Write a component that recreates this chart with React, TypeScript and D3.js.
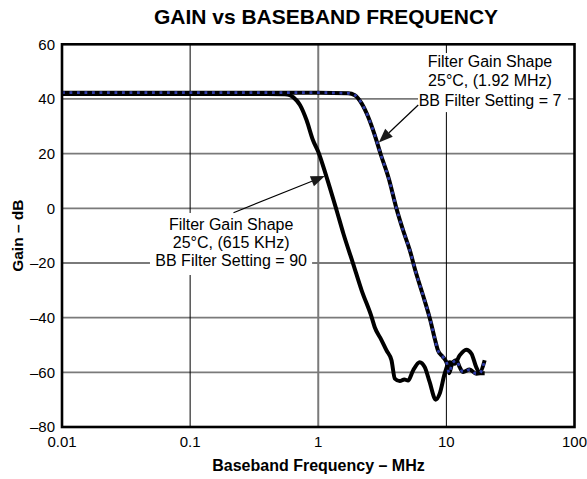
import React, { useEffect, useRef } from "react";
import * as d3 from "d3";

// Gain vs baseband frequency
const freqA = [0.01, 0.1, 0.4, 0.55, 0.6, 0.64, 0.72, 0.81, 0.91, 1.0, 1.16, 1.39, 1.57, 1.87, 2.18, 2.61, 2.76, 3.1, 3.41, 3.73, 3.96, 4.33, 4.7, 5.02, 5.5, 6.19, 6.78, 7.41, 8.26, 8.87, 9.7, 10.6, 11.6, 12.7, 14.3, 15.7, 17.1, 18.2, 19.9];
const gainA = [41.8, 41.8, 41.8, 41.7, 41.4, 40.6, 37.8, 32.3, 24.9, 20.7, 11.5, -0.7, -9.2, -20.2, -30, -39.8, -43.5, -48, -52, -55.6, -62.3, -63.2, -62.6, -63, -59.3, -56.3, -58.1, -63.6, -70, -67.8, -60.5, -56.3, -56.9, -53.8, -51.7, -53.2, -58.1, -60.3, -60.3];

const freqB = [0.01, 0.1, 1.0, 1.71, 1.93, 2.18, 2.45, 2.76, 3.08, 3.55, 4.08, 4.59, 5.18, 5.77, 6.57, 7.5, 8.11, 8.6, 9.41, 10.1, 10.5, 11.1, 12.0, 12.7, 13.5, 15.2, 17.1, 18.2, 19.9];
const gainB = [42.3, 42.3, 42.3, 42.1, 41.4, 38.4, 33.5, 26.8, 19.6, 10.9, -0.1, -8, -15.3, -23.3, -31.8, -41, -47.6, -52, -54.4, -56.8, -60.3, -56.8, -55.6, -58.1, -59.9, -59.0, -60.5, -60.3, -55.6];

const xTicks = [0.01, 0.1, 1, 10, 100];
const xTickLabels = ["0.01", "0.1", "1", "10", "100"];
const yTicks = [60, 40, 20, 0, -20, -40, -60, -80];

const labelA = ["Filter Gain Shape", "25°C, (615 KHz)", "BB Filter Setting = 90"];
const labelB = ["Filter Gain Shape", "25°C, (1.92 MHz)", "BB Filter Setting = 7"];

const FONT = "'Liberation Sans', Arial, Helvetica, sans-serif";

const App = () => {
  const svgRef = useRef<SVGSVGElement>(null);

  useEffect(() => {
    const svg = d3.select(svgRef.current);
    svg.selectAll("*").remove();

    const width = 587;
    const height = 479;
    const plot = { left: 62, right: 574.5, top: 44.3, bottom: 427 };

    const x = d3.scaleLog().domain([0.01, 100]).range([plot.left, plot.right]);
    const y = d3.scaleLinear().domain([-80, 60]).range([plot.bottom, plot.top]);

    svg.attr("font-family", FONT);

    // title
    svg
      .append("text")
      .attr("x", 326)
      .attr("y", 24)
      .attr("text-anchor", "middle")
      .attr("font-size", 21)
      .attr("font-weight", "bold")
      .text("GAIN vs BASEBAND FREQUENCY");

    // grid
    const grid = svg.append("g");
    grid
      .selectAll("line.h")
      .data(yTicks.filter((d) => d > -80 && d < 60))
      .join("line")
      .attr("x1", plot.left)
      .attr("x2", plot.right)
      .attr("y1", (d) => y(d))
      .attr("y2", (d) => y(d))
      .attr("stroke", "#7a7a7a")
      .attr("stroke-width", 1.8);
    grid
      .selectAll("line.v")
      .data(xTicks.filter((d) => d > 0.01 && d < 100))
      .join("line")
      .attr("x1", (d) => x(d))
      .attr("x2", (d) => x(d))
      .attr("y1", plot.top)
      .attr("y2", plot.bottom)
      .attr("stroke", (d) => (d === 1 ? "#7a7a7a" : "#000"))
      .attr("stroke-width", (d) => (d === 1 ? 2 : 1));

    // annotation boxes (white, cut the grid)
    const boxes = [
      { f0: 0.0486, f1: 0.895, g0: -24.4, g1: -1.7 },
      { f0: 6.01, f1: 89, g0: 35.2, g1: 56.8 },
    ];
    svg
      .append("g")
      .selectAll("rect")
      .data(boxes)
      .join("rect")
      .attr("x", (d) => x(d.f0))
      .attr("y", (d) => y(d.g1))
      .attr("width", (d) => x(d.f1) - x(d.f0))
      .attr("height", (d) => y(d.g0) - y(d.g1))
      .attr("fill", "#fff");

    // annotation texts
    const notes = [
      { f: 0.209, lines: labelA, base: [229.5, 247.6, 265.7] },
      { f: 21.9, lines: labelB, base: [66.6, 86.1, 105.6] },
    ];
    notes.forEach((n) => {
      const t = svg
        .append("text")
        .attr("text-anchor", "middle")
        .attr("font-size", 16);
      n.lines.forEach((s, i) => {
        t.append("tspan").attr("x", x(n.f)).attr("y", n.base[i]).text(s);
      });
    });

    // arrows
    const arrows = [
      { f0: 0.218, g0: -1.6, f1: 1.127, g1: 11.8 },
      { f0: 6.03, g0: 37.8, f1: 2.97, g1: 24.1 },
    ];
    arrows.forEach((a) => {
      const x0 = x(a.f0), y0 = y(a.g0), x1 = x(a.f1), y1 = y(a.g1);
      const len = Math.hypot(x1 - x0, y1 - y0);
      const ux = (x1 - x0) / len, uy = (y1 - y0) / len;
      const hl = 14, hw = 5.5;
      const bx = x1 - ux * hl, by = y1 - uy * hl;
      svg
        .append("line")
        .attr("x1", x0)
        .attr("y1", y0)
        .attr("x2", bx)
        .attr("y2", by)
        .attr("stroke", "#000")
        .attr("stroke-width", 1.2);
      svg
        .append("polygon")
        .attr(
          "points",
          [
            [x1, y1],
            [bx - uy * hw, by + ux * hw],
            [bx + uy * hw, by - ux * hw],
          ]
            .map((p) => p.join(","))
            .join(" ")
        )
        .attr("fill", "#1a1a1a");
    });

    // curves
    const line = d3
      .line<[number, number]>()
      .x((d) => x(d[0]))
      .y((d) => y(d[1]))
      .curve(d3.curveMonotoneX);

    const ptsA = freqA.map((f, i) => [f, gainA[i]] as [number, number]);
    const ptsB = freqB.map((f, i) => [f, gainB[i]] as [number, number]);

    svg
      .append("path")
      .attr("d", line(ptsA))
      .attr("fill", "none")
      .attr("stroke", "#000")
      .attr("stroke-width", 4)
      .attr("stroke-linejoin", "round");
    svg
      .append("path")
      .attr("d", line(ptsB))
      .attr("fill", "none")
      .attr("stroke", "#000")
      .attr("stroke-width", 4)
      .attr("stroke-linejoin", "round");
    svg
      .append("path")
      .attr("d", line(ptsB))
      .attr("fill", "none")
      .attr("stroke", "#2f3ca8")
      .attr("stroke-width", 2.8)
      .attr("stroke-dasharray", "2.8 4.7");

    // frame
    svg
      .append("rect")
      .attr("x", plot.left)
      .attr("y", plot.top)
      .attr("width", plot.right - plot.left)
      .attr("height", plot.bottom - plot.top)
      .attr("fill", "none")
      .attr("stroke", "#000")
      .attr("stroke-width", 2.6);

    // tick labels
    svg
      .append("g")
      .selectAll("text")
      .data(yTicks)
      .join("text")
      .attr("x", 55)
      .attr("y", (d) => y(d))
      .attr("dy", "0.35em")
      .attr("text-anchor", "end")
      .attr("font-size", 15)
      .text((d) => (d < 0 ? "–" + Math.abs(d) : String(d)));
    svg
      .append("g")
      .selectAll("text")
      .data(xTicks)
      .join("text")
      .attr("x", (d) => x(d))
      .attr("y", 447)
      .attr("text-anchor", "middle")
      .attr("font-size", 15)
      .text((d, i) => xTickLabels[i]);

    // axis titles
    svg
      .append("text")
      .attr("x", 318.5)
      .attr("y", 471)
      .attr("text-anchor", "middle")
      .attr("font-size", 16)
      .attr("font-weight", "bold")
      .text("Baseband Frequency – MHz");
    svg
      .append("text")
      .attr("transform", `translate(22.5,${(plot.top + plot.bottom) / 2}) rotate(-90)`)
      .attr("text-anchor", "middle")
      .attr("font-size", 15.5)
      .attr("font-weight", "bold")
      .text("Gain – dB");

    svg.attr("width", width).attr("height", height);
  }, []);

  return (
    <svg
      ref={svgRef}
      width={587}
      height={479}
      style={{ position: "absolute", left: 0, top: 0, background: "#fff" }}
    ></svg>
  );
};

export default App;
